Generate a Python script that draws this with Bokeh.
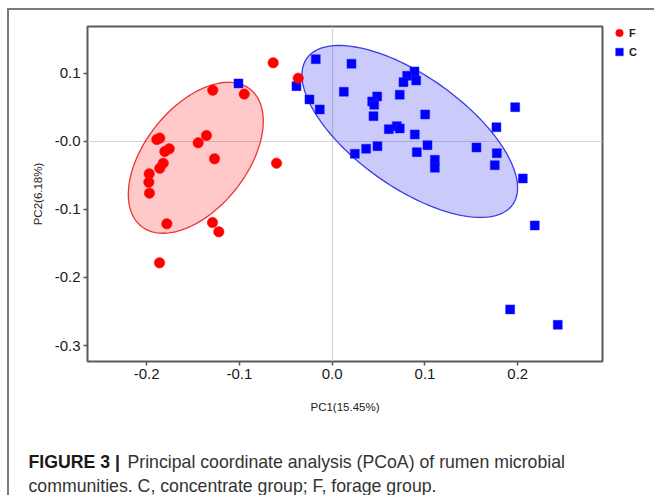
from bokeh.plotting import figure
from bokeh.models import (FixedTicker, CustomJSTickFormatter, Legend, LegendItem)
from bokeh.core.properties import value
from bokeh.embed import file_html
from bokeh.resources import INLINE
import numpy as np

# ---- data ----
f_pc1 = [-0.0636, -0.0366, -0.1287, -0.0948, -0.1355, -0.1444, -0.1858, -0.1890,
         -0.1756, -0.1804, -0.1268, -0.0600, -0.1821, -0.1858, -0.1972, -0.1976,
         -0.1969, -0.1782, -0.1290, -0.1222, -0.1861]
f_pc2 = [0.1157, 0.0931, 0.0754, 0.0696, 0.0088, -0.0019, 0.0049, 0.0029,
         -0.0107, -0.0147, -0.0254, -0.0319, -0.0319, -0.0393, -0.0475, -0.0599,
         -0.0760, -0.1210, -0.1191, -0.1328, -0.1784]

c_pc1 = [-0.1010, -0.0177, -0.0385, -0.0245, -0.0134, 0.0208, 0.0887, 0.0808,
         0.0768, 0.0905, 0.0125, 0.0485, 0.0431, 0.0453, 0.0728, 0.0445, 0.1002,
         0.1972, 0.1770, 0.0610, 0.0696, 0.0728, 0.0890, 0.0366, 0.0488, 0.0244,
         0.1027, 0.1555, 0.0912, 0.1774, 0.1106, 0.1106, 0.1752, 0.2054, 0.2183,
         0.1918, 0.2431]
c_pc2 = [0.0853, 0.1210, 0.0813, 0.0618, 0.0471, 0.1143, 0.1029, 0.0966,
         0.0872, 0.0897, 0.0731, 0.0662, 0.0588, 0.0540, 0.0687, 0.0372, 0.0397,
         0.0504, 0.0210, 0.0181, 0.0225, 0.0191, 0.0103, -0.0107, -0.0069, -0.0181,
         -0.0054, -0.0088, -0.0157, -0.0172, -0.0269, -0.0387, -0.0349, -0.0544, -0.1235,
         -0.2469, -0.2696]

# confidence ellipses: centre and the two semi-axis vectors (data units)
f_ell_center = (-0.147, -0.024)
f_ell_axis1 = (0.0587, 0.1007)
f_ell_axis2 = (0.0429, -0.0466)
c_ell_center = (0.0836, 0.0147)
c_ell_axis1 = (0.1109, -0.1075)
c_ell_axis2 = (-0.0346, -0.0665)

x_ticks = [-0.2, -0.1, 0.0, 0.1, 0.2]
x_tick_labels = ["-0.2", "-0.1", "0.0", "0.1", "0.2"]
y_ticks = [-0.3, -0.2, -0.1, 0.0, 0.1]
y_tick_labels = ["-0.3", "-0.2", "-0.1", "-0.0", "0.1"]

x_title = "PC1(15.45%)"
y_title = "PC2(6.18%)"
group_names = ["F", "C"]
caption_bold = "FIGURE 3 |"
caption_line1 = "Principal coordinate analysis (PCoA) of rumen microbial"
caption_line2 = "communities. C, concentrate group; F, forage group."

FONT = "Liberation Sans"


def ellipse_xy(center, a1, a2, n=200):
    t = np.linspace(0, 2 * np.pi, n)
    xs = center[0] + a1[0] * np.cos(t) + a2[0] * np.sin(t)
    ys = center[1] + a1[1] * np.cos(t) + a2[1] * np.sin(t)
    return xs, ys


p = figure(frame_width=515, frame_height=335,
           x_range=(-0.2637, 0.2913), y_range=(-0.3235, 0.169),
           output_backend="svg", toolbar_location=None,
           min_border_left=78, min_border_right=44, min_border_top=16, min_border_bottom=60,
           styles={"margin-left": "7px", "margin-top": "8px",
                   "border-top": "2px solid #7a7a7a", "border-left": "2px solid #7a7a7a"})

p.background_fill_color = "white"
p.border_fill_color = "white"
p.outline_line_color = "#5a5a5a"
p.outline_line_width = 2

# zero reference lines
p.xgrid.ticker = FixedTicker(ticks=[0.0])
p.ygrid.ticker = FixedTicker(ticks=[0.0])
p.grid.grid_line_color = "#d6d6d6"
p.grid.grid_line_width = 1.2

# ellipses
fx, fy = ellipse_xy(f_ell_center, f_ell_axis1, f_ell_axis2)
cx, cy = ellipse_xy(c_ell_center, c_ell_axis1, c_ell_axis2)
p.patch(fx, fy, fill_color="#ff0000", fill_alpha=0.21, line_color="#ee3333", line_width=1.3)
p.patch(cx, cy, fill_color="#1010ee", fill_alpha=0.22, line_color="#3a3ae6", line_width=1.3)

# points
rc = p.scatter(c_pc1, c_pc2, marker="square", size=9, fill_color="#0000ff",
               line_color="#2020ff", line_width=0.5)
rf = p.scatter(f_pc1, f_pc2, marker="circle", size=10.5, fill_color="#ff0000",
               line_color="#ff1010", line_width=0.5)

# axes
for ax, ticks, labels, title in ((p.xaxis[0], x_ticks, x_tick_labels, x_title),
                                 (p.yaxis[0], y_ticks, y_tick_labels, y_title)):
    ax.ticker = FixedTicker(ticks=ticks)
    ax.formatter = CustomJSTickFormatter(args=dict(t=ticks, l=labels), code="""
        for (let i = 0; i < t.length; i++) { if (Math.abs(t[i] - tick) < 1e-9) return l[i]; }
        return tick.toFixed(1);
    """)
    ax.axis_label = title
    ax.axis_line_color = None
    ax.major_tick_out = 4
    ax.major_tick_in = 0
    ax.major_tick_line_color = "#555555"
    ax.major_tick_line_width = 1.5
    ax.minor_tick_line_color = None
    ax.major_label_text_font = FONT
    ax.major_label_text_font_size = "15px"
    ax.major_label_text_color = "#1a1a1a"
    ax.axis_label_text_font = FONT
    ax.axis_label_text_font_size = "11.5px"
    ax.axis_label_text_font_style = "normal"
    ax.axis_label_text_color = "#222222"

p.xaxis.major_label_standoff = 3
p.xaxis.axis_label_standoff = 19
p.yaxis.major_label_standoff = 3
p.yaxis.axis_label_standoff = 8

# legend outside the frame, top right
legend = Legend(items=[LegendItem(label=group_names[0], renderers=[rf]),
                       LegendItem(label=group_names[1], renderers=[rc])],
                location=(7, 300), padding=0, margin=0, spacing=0,
                glyph_width=20, glyph_height=19, label_height=19, label_standoff=0,
                border_line_color=None, background_fill_alpha=0,
                label_text_font=FONT, label_text_font_size="11px",
                label_text_font_style="bold", label_text_color="#222222")
p.add_layout(legend, "right")

# caption panel (pixel-like coordinates, y downward)
cap = figure(width=637, height=74, x_range=(0, 637), y_range=(74, 0),
             output_backend="svg", toolbar_location=None,
             min_border=0, min_border_left=0, min_border_right=0,
             min_border_top=0, min_border_bottom=0,
             styles={"margin-left": "7px", "border-left": "2px solid #7a7a7a"})
cap.axis.visible = False
cap.grid.visible = False
cap.outline_line_color = None
cap.background_fill_color = "white"
cap.border_fill_color = "white"

cap_kw = dict(text_font=value(FONT), text_font_size="17.7px", text_baseline="alphabetic")
cap.text(x=[19], y=[40], text=[caption_bold], text_font_style="bold",
         text_color="#1a1a1a", **cap_kw)
cap.text(x=[118], y=[40], text=[caption_line1], text_color="#333333", **cap_kw)
cap.text(x=[19], y=[64], text=[caption_line2], text_color="#333333", **cap_kw)

open("out.html", "w").write(file_html([p, cap], INLINE))
